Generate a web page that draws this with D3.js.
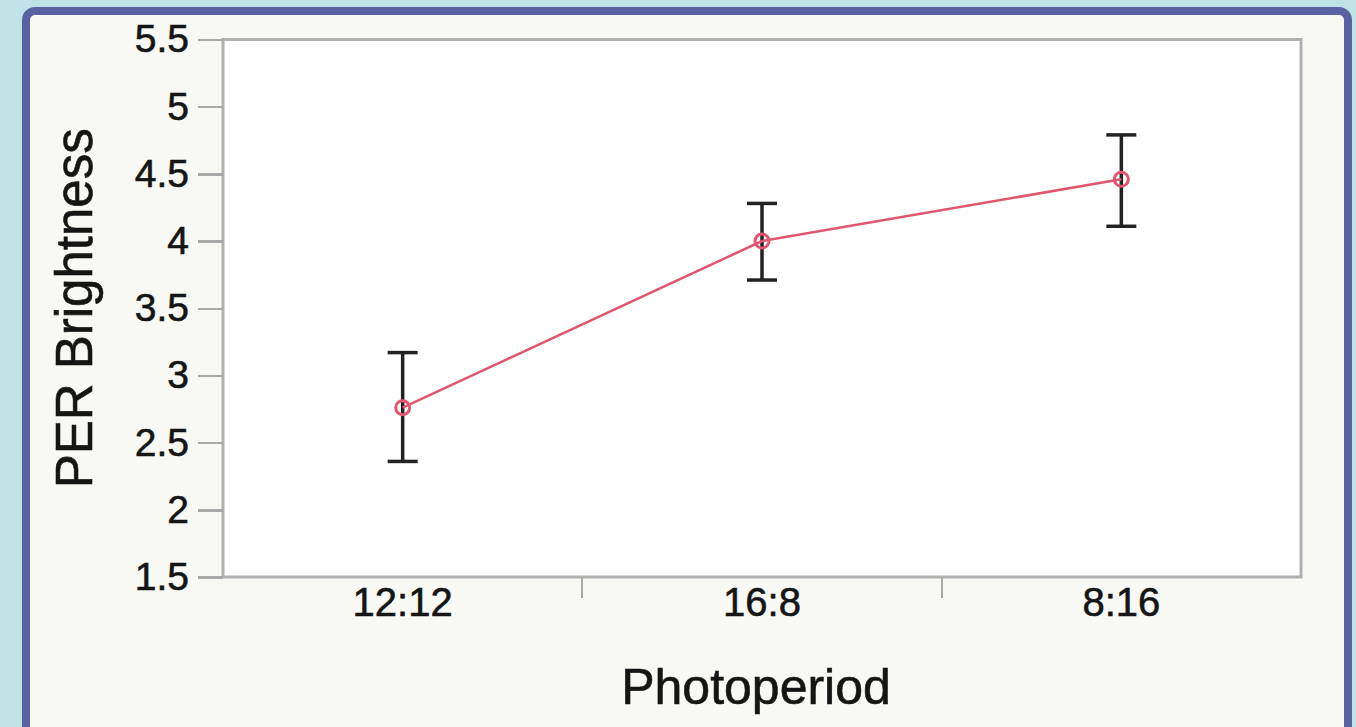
<!DOCTYPE html>
<meta charset="utf-8">
<style>
  body { margin: 0; background: #bfe3e6; }
  svg { display: block; font-family: "Liberation Sans", Arial, sans-serif; }
  .axis path { display: none; }
  .axis line { stroke: #a8a8a8; stroke-width: 2.5; shape-rendering: crispEdges; }
  .axis text { fill: #151515; stroke: #151515; stroke-width: 0.6; }
  .title { fill: #151515; stroke: #151515; stroke-width: 0.6; }
</style>
<body>
<script src="https://d3js.org/d3.v7.min.js"></script>
<script>

// Photoperiod categories, mean PER brightness and error bar ends
var photoperiods = ["12:12", "16:8", "8:16"];
var means = [2.76, 4.00, 4.46];
var lower = [2.36, 3.71, 4.11];
var upper = [3.17, 4.28, 4.79];
var yTicks = [1.5, 2, 2.5, 3, 3.5, 4, 4.5, 5, 5.5];

var W = 1356, H = 727;
var plot = {left: 223, right: 1301, top: 39.5, bottom: 577};

var svg = d3.select("body").append("svg")
    .attr("width", W)
    .attr("height", H);

// frame around the chart
svg.append("rect")
    .attr("x", 26).attr("y", 11)
    .attr("width", 1322).attr("height", 760)
    .attr("rx", 9)
    .attr("fill", "#f8f8f4")
    .attr("stroke", "#5a63a2")
    .attr("stroke-width", 8);

var x = d3.scaleBand()
    .domain(photoperiods)
    .range([plot.left, plot.right]);

var y = d3.scaleLinear()
    .domain([1.5, 5.5])
    .range([plot.bottom, plot.top]);

// plot area
svg.append("rect")
    .attr("x", plot.left).attr("y", plot.top)
    .attr("width", plot.right - plot.left)
    .attr("height", plot.bottom - plot.top)
    .attr("fill", "#fff")
    .attr("stroke", "#b0b0b0")
    .attr("stroke-width", 3);

// y axis
svg.append("g")
    .attr("class", "axis")
    .attr("transform", "translate(" + plot.left + ",0)")
    .call(d3.axisLeft(y).tickValues(yTicks).tickSize(25).tickPadding(9)
        .tickFormat(function(d) { return String(d); }))
    .selectAll("text")
    .style("font-size", "39px");

// x axis labels
svg.append("g")
    .attr("class", "axis")
    .attr("transform", "translate(0," + plot.bottom + ")")
    .call(d3.axisBottom(x).tickSize(0).tickPadding(11))
    .selectAll("text")
    .style("font-size", "40px");

// separator ticks between categories
svg.append("g")
    .attr("class", "axis")
    .selectAll("line")
    .data(photoperiods.slice(1))
    .enter().append("line")
    .attr("x1", function(d) { return Math.round(x(d)); })
    .attr("x2", function(d) { return Math.round(x(d)); })
    .attr("y1", plot.bottom)
    .attr("y2", plot.bottom + 21);

// axis titles
svg.append("text")
    .attr("class", "title")
    .attr("transform", "translate(92," + ((plot.top + plot.bottom) / 2) + ") rotate(-90)")
    .attr("text-anchor", "middle")
    .style("font-size", "51px")
    .text("PER Brightness");

svg.append("text")
    .attr("class", "title")
    .attr("x", 756)
    .attr("y", 704)
    .attr("text-anchor", "middle")
    .style("font-size", "50px")
    .text("Photoperiod");

var cx = function(i) { return x(photoperiods[i]) + x.bandwidth() / 2; };
var idx = d3.range(photoperiods.length);

// error bars
var eb = svg.append("g")
    .attr("stroke", "#222")
    .attr("stroke-width", 3.5)
    .attr("fill", "none");

eb.selectAll(".stem")
    .data(idx).enter().append("line")
    .attr("x1", cx).attr("x2", cx)
    .attr("y1", function(i) { return y(lower[i]); })
    .attr("y2", function(i) { return y(upper[i]); });

eb.selectAll(".cap")
    .data(idx.concat(idx)).enter().append("line")
    .attr("x1", function(i) { return cx(i) - 15; })
    .attr("x2", function(i) { return cx(i) + 15; })
    .attr("y1", function(i, k) { return y(k < idx.length ? upper[i] : lower[i]); })
    .attr("y2", function(i, k) { return y(k < idx.length ? upper[i] : lower[i]); });

// mean line and markers
var line = d3.line()
    .x(cx)
    .y(function(i) { return y(means[i]); });

svg.append("path")
    .datum(idx)
    .attr("d", line)
    .attr("fill", "none")
    .attr("stroke", "#e0566f")
    .attr("stroke-width", 2.5);

svg.selectAll(".pt")
    .data(idx).enter().append("circle")
    .attr("cx", cx)
    .attr("cy", function(i) { return y(means[i]); })
    .attr("r", 7)
    .attr("fill", "none")
    .attr("stroke", "#e0566f")
    .attr("stroke-width", 3);

</script>
